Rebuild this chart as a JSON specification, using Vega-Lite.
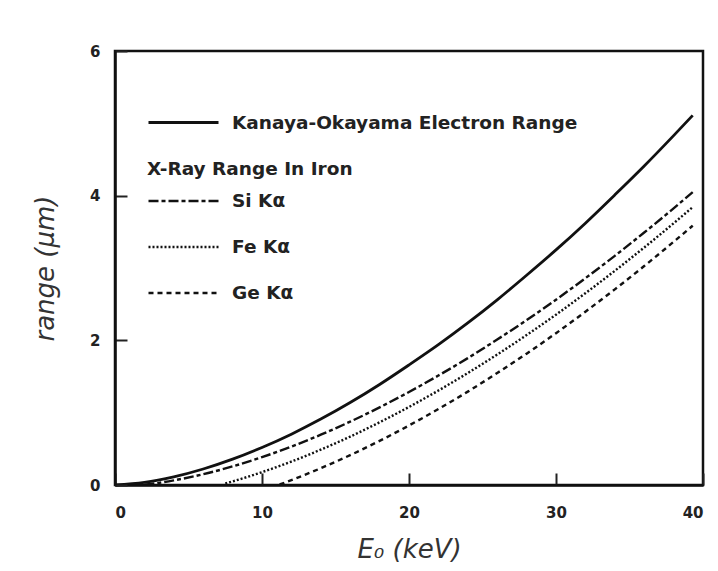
{
  "$schema": "https://vega.github.io/schema/vega-lite/v6.json",
  "width": 588,
  "height": 434,
  "autosize": "none",
  "padding": {"left": 115, "top": 51, "right": 15, "bottom": 86},
  "background": "white",
  "datasets": {
    "ranges": [
      {"curve": "Kanaya-Okayama Electron Range", "E": 0, "range": 0},
      {"curve": "Kanaya-Okayama Electron Range", "E": 2, "range": 0.035},
      {"curve": "Kanaya-Okayama Electron Range", "E": 4, "range": 0.112},
      {"curve": "Kanaya-Okayama Electron Range", "E": 6, "range": 0.221},
      {"curve": "Kanaya-Okayama Electron Range", "E": 8, "range": 0.357},
      {"curve": "Kanaya-Okayama Electron Range", "E": 10, "range": 0.519},
      {"curve": "Kanaya-Okayama Electron Range", "E": 12, "range": 0.703},
      {"curve": "Kanaya-Okayama Electron Range", "E": 14, "range": 0.911},
      {"curve": "Kanaya-Okayama Electron Range", "E": 16, "range": 1.14},
      {"curve": "Kanaya-Okayama Electron Range", "E": 18, "range": 1.39},
      {"curve": "Kanaya-Okayama Electron Range", "E": 20, "range": 1.66},
      {"curve": "Kanaya-Okayama Electron Range", "E": 22, "range": 1.94},
      {"curve": "Kanaya-Okayama Electron Range", "E": 24, "range": 2.24},
      {"curve": "Kanaya-Okayama Electron Range", "E": 26, "range": 2.56},
      {"curve": "Kanaya-Okayama Electron Range", "E": 28, "range": 2.9},
      {"curve": "Kanaya-Okayama Electron Range", "E": 30, "range": 3.25},
      {"curve": "Kanaya-Okayama Electron Range", "E": 32, "range": 3.62},
      {"curve": "Kanaya-Okayama Electron Range", "E": 34, "range": 4.01},
      {"curve": "Kanaya-Okayama Electron Range", "E": 36, "range": 4.41},
      {"curve": "Kanaya-Okayama Electron Range", "E": 38, "range": 4.83},
      {"curve": "Kanaya-Okayama Electron Range", "E": 39.3, "range": 5.11},
      {"curve": "Si Kα", "E": 2, "range": 0.004},
      {"curve": "Si Kα", "E": 3, "range": 0.03},
      {"curve": "Si Kα", "E": 4, "range": 0.064},
      {"curve": "Si Kα", "E": 6, "range": 0.149},
      {"curve": "Si Kα", "E": 8, "range": 0.257},
      {"curve": "Si Kα", "E": 10, "range": 0.385},
      {"curve": "Si Kα", "E": 12, "range": 0.531},
      {"curve": "Si Kα", "E": 14, "range": 0.695},
      {"curve": "Si Kα", "E": 16, "range": 0.876},
      {"curve": "Si Kα", "E": 18, "range": 1.073},
      {"curve": "Si Kα", "E": 20, "range": 1.286},
      {"curve": "Si Kα", "E": 22, "range": 1.513},
      {"curve": "Si Kα", "E": 24, "range": 1.754},
      {"curve": "Si Kα", "E": 26, "range": 2.011},
      {"curve": "Si Kα", "E": 28, "range": 2.28},
      {"curve": "Si Kα", "E": 30, "range": 2.562},
      {"curve": "Si Kα", "E": 32, "range": 2.859},
      {"curve": "Si Kα", "E": 34, "range": 3.168},
      {"curve": "Si Kα", "E": 36, "range": 3.49},
      {"curve": "Si Kα", "E": 38, "range": 3.825},
      {"curve": "Si Kα", "E": 39.3, "range": 4.048},
      {"curve": "Fe Kα", "E": 7.5, "range": 0.022},
      {"curve": "Fe Kα", "E": 8, "range": 0.05},
      {"curve": "Fe Kα", "E": 10, "range": 0.178},
      {"curve": "Fe Kα", "E": 12, "range": 0.324},
      {"curve": "Fe Kα", "E": 14, "range": 0.489},
      {"curve": "Fe Kα", "E": 16, "range": 0.669},
      {"curve": "Fe Kα", "E": 18, "range": 0.867},
      {"curve": "Fe Kα", "E": 20, "range": 1.079},
      {"curve": "Fe Kα", "E": 22, "range": 1.306},
      {"curve": "Fe Kα", "E": 24, "range": 1.548},
      {"curve": "Fe Kα", "E": 26, "range": 1.804},
      {"curve": "Fe Kα", "E": 28, "range": 2.073},
      {"curve": "Fe Kα", "E": 30, "range": 2.355},
      {"curve": "Fe Kα", "E": 32, "range": 2.652},
      {"curve": "Fe Kα", "E": 34, "range": 2.961},
      {"curve": "Fe Kα", "E": 36, "range": 3.283},
      {"curve": "Fe Kα", "E": 38, "range": 3.618},
      {"curve": "Fe Kα", "E": 39.3, "range": 3.842},
      {"curve": "Ge Kα", "E": 11.2, "range": 0.007},
      {"curve": "Ge Kα", "E": 12, "range": 0.068},
      {"curve": "Ge Kα", "E": 14, "range": 0.232},
      {"curve": "Ge Kα", "E": 16, "range": 0.413},
      {"curve": "Ge Kα", "E": 18, "range": 0.61},
      {"curve": "Ge Kα", "E": 20, "range": 0.823},
      {"curve": "Ge Kα", "E": 22, "range": 1.05},
      {"curve": "Ge Kα", "E": 24, "range": 1.291},
      {"curve": "Ge Kα", "E": 26, "range": 1.548},
      {"curve": "Ge Kα", "E": 28, "range": 1.816},
      {"curve": "Ge Kα", "E": 30, "range": 2.099},
      {"curve": "Ge Kα", "E": 32, "range": 2.396},
      {"curve": "Ge Kα", "E": 34, "range": 2.705},
      {"curve": "Ge Kα", "E": 36, "range": 3.027},
      {"curve": "Ge Kα", "E": 38, "range": 3.362},
      {"curve": "Ge Kα", "E": 39.3, "range": 3.585}
    ]
  },
  "data": {"name": "ranges"},
  "layer": [
    {
      "transform": [{"filter": "datum.curve === 'Kanaya-Okayama Electron Range'"}],
      "mark": {"type": "line", "interpolate": "monotone", "strokeWidth": 2.8},
      "encoding": {
        "x": {
          "field": "E", "type": "quantitative",
          "scale": {"domain": [0, 40], "nice": false},
          "axis": {
            "orient": "bottom", "values": [0, 10, 20, 30, 40],
            "title": "E₀ (keV)", "titlePadding": 16,
            "domain": true, "domainWidth": 2.5, "domainColor": "#111111",
            "grid": false, "zindex": 1,
            "ticks": true, "tickSize": -12, "tickWidth": 2, "tickColor": "#222222",
            "labelPadding": 32
          }
        },
        "y": {
          "field": "range", "type": "quantitative",
          "scale": {"domain": [0, 6], "nice": false},
          "axis": {
            "orient": "left", "values": [0, 2, 4, 6],
            "title": "range (μm)", "titlePadding": 31,
            "domain": true, "domainWidth": 2.5, "domainColor": "#111111",
            "grid": false, "zindex": 1,
            "ticks": true, "tickSize": -12, "tickWidth": 2, "tickColor": "#222222",
            "labelPadding": 27
          }
        },
        "color": {
          "field": "curve", "type": "nominal",
          "scale": {"range": ["#111111"]},
          "legend": {
            "orient": "none", "legendX": 32, "legendY": 35, "padding": 0,
            "title": null, "symbolType": "stroke", "symbolSize": 4900,
            "symbolStrokeWidth": 2.8, "labelOffset": 12
          }
        }
      }
    },
    {
      "transform": [{"filter": "datum.curve !== 'Kanaya-Okayama Electron Range'"}],
      "mark": {"type": "line", "interpolate": "monotone", "strokeWidth": 2.4, "color": "#111111"},
      "encoding": {
        "x": {
          "field": "E", "type": "quantitative",
          "axis": {
            "orient": "bottom", "values": [0, 10, 20, 30, 40],
            "title": "E₀ (keV)", "titlePadding": 16,
            "domain": true, "domainWidth": 2.5, "domainColor": "#111111",
            "grid": false, "zindex": 1,
            "ticks": true, "tickSize": -12, "tickWidth": 2, "tickColor": "#222222",
            "labelPadding": 32
          }
        },
        "y": {
          "field": "range", "type": "quantitative",
          "axis": {
            "orient": "left", "values": [0, 2, 4, 6],
            "title": "range (μm)", "titlePadding": 31,
            "domain": true, "domainWidth": 2.5, "domainColor": "#111111",
            "grid": false, "zindex": 1,
            "ticks": true, "tickSize": -12, "tickWidth": 2, "tickColor": "#222222",
            "labelPadding": 27
          }
        },
        "strokeDash": {
          "field": "curve", "type": "nominal",
          "scale": {
            "domain": ["Si Kα", "Fe Kα", "Ge Kα"],
            "range": [[10, 3, 4, 3], [2, 2], [5, 4]]
          },
          "legend": {
            "orient": "none", "legendX": 32, "legendY": 109, "padding": 0,
            "title": "X-Ray Range In Iron", "titlePadding": -14, "rowPadding": 0,
            "symbolType": "stroke", "symbolSize": 4900, "symbolStrokeWidth": 2.4,
            "symbolStrokeColor": "#111111", "labelOffset": 12
          }
        }
      }
    }
  ],
  "config": {
    "view": {"stroke": "#111111", "strokeWidth": 2.5},
    "axis": {
      "labelFont": "DejaVu Sans",
      "labelFontWeight": "bold",
      "labelFontSize": 15,
      "labelColor": "#222222",
      "titleFont": "DejaVu Sans",
      "titleFontStyle": "italic",
      "titleFontWeight": 200,
      "titleFontSize": 26,
      "titleColor": "#333333"
    },
    "legend": {
      "labelFont": "DejaVu Sans",
      "labelFontWeight": "bold",
      "labelFontSize": 18.5,
      "labelColor": "#222222",
      "labelLimit": 500,
      "titleFont": "DejaVu Sans",
      "titleFontWeight": "bold",
      "titleFontSize": 18.5,
      "titleColor": "#222222",
      "titleLimit": 500
    }
  }
}
